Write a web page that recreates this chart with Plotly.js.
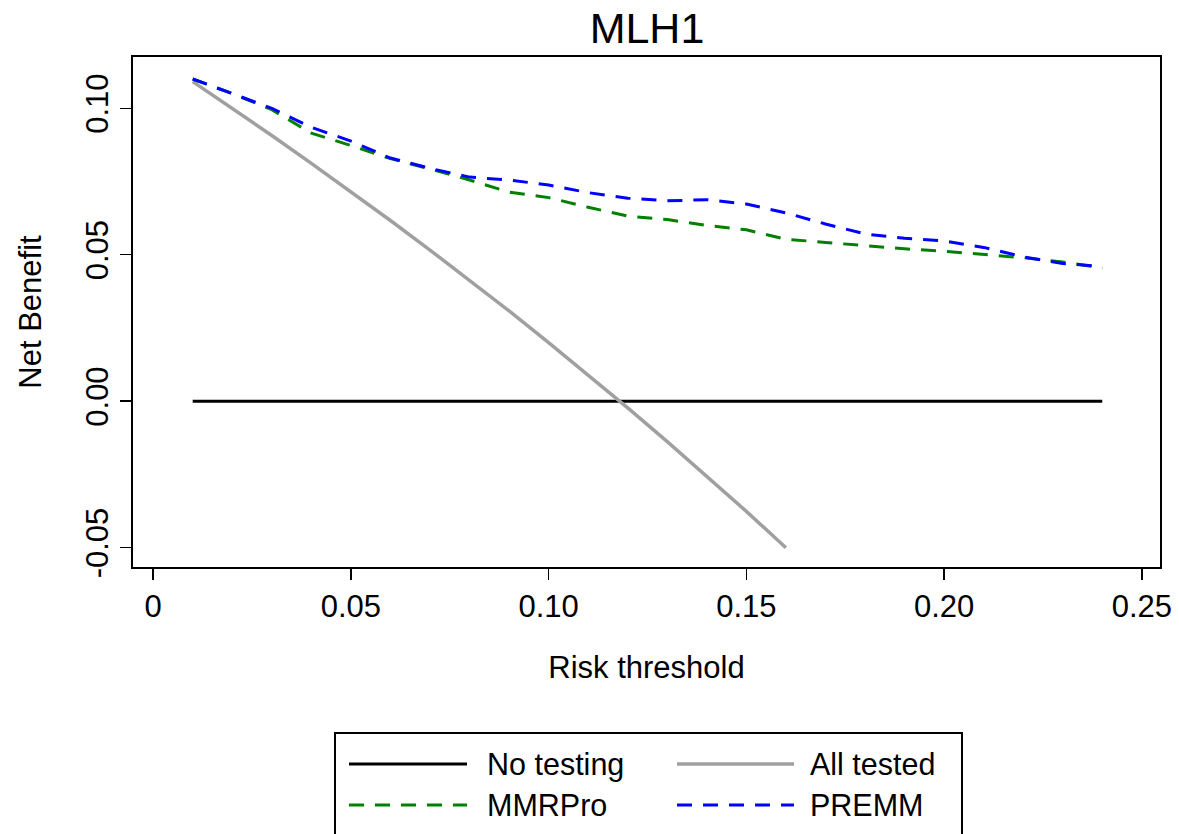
<!DOCTYPE html>
<html>
<head>
<meta charset="utf-8">
<script src="https://cdn.plot.ly/plotly-3.0.1.min.js"></script>
<style>
  html, body { margin: 0; padding: 0; background: #ffffff; }
  #chart { width: 1179px; height: 834px; }
</style>
</head>
<body>
<div id="chart"></div>
<script>
// ---- data ----
const thresholds = [0.01, 0.02, 0.03, 0.04, 0.05, 0.06, 0.07, 0.08, 0.09, 0.10, 0.11, 0.12,
                    0.13, 0.14, 0.15, 0.16, 0.17, 0.18, 0.19, 0.20, 0.21, 0.22, 0.23, 0.24];
const noTesting = [0, 0, 0, 0, 0, 0, 0, 0, 0, 0, 0, 0,
                   0, 0, 0, 0, 0, 0, 0, 0, 0, 0, 0, 0];
const allTestedX = [0.01, 0.02, 0.03, 0.04, 0.05, 0.06, 0.07, 0.08,
                    0.09, 0.10, 0.11, 0.12, 0.13, 0.14, 0.15, 0.16];
const allTested = [0.1091, 0.1000, 0.0907, 0.0812, 0.0716, 0.0617, 0.0516, 0.0413,
                   0.0308, 0.0200, 0.0090, -0.0023, -0.0138, -0.0256, -0.0376, -0.0500];
const mmrpro = [0.110, 0.105, 0.0995, 0.0915, 0.0873, 0.0828, 0.0793, 0.0755, 0.0714, 0.0695, 0.0662, 0.0632,
                0.0620, 0.0600, 0.0585, 0.0553, 0.0542, 0.0530, 0.0520, 0.0512, 0.0500, 0.0490, 0.0475, 0.0455];
const premm = [0.110, 0.105, 0.100, 0.0935, 0.0888, 0.0830, 0.0795, 0.0765, 0.0755, 0.0738, 0.0712, 0.0693,
               0.0684, 0.0688, 0.0673, 0.0643, 0.0605, 0.0571, 0.0556, 0.0547, 0.0525, 0.0493, 0.0470, 0.0460];

const seriesNames = ['No testing', 'All tested', 'MMRPro', 'PREMM'];
const xTickVals = [0, 0.05, 0.10, 0.15, 0.20, 0.25];
const xTickText = ['0', '0.05', '0.10', '0.15', '0.20', '0.25'];
const yTickVals = [-0.05, 0, 0.05, 0.10];
const yTickText = ['-0.05', '0.00', '0.05', '0.10'];
const chartTitle = 'MLH1';
const xTitle = 'Risk threshold';
const yTitle = 'Net Benefit';

// ---- styles ----
const colors = ['#000000', '#a0a0a0', '#008000', '#0000ff'];
const widths = [3, 3.5, 3, 3];
const dashes = ['solid', 'solid', '15px,11px', '15px,11px'];
const FONT = 'Arial, "Liberation Sans", Helvetica, sans-serif';
const FS = 31;

const traces = [
  {x: thresholds, y: noTesting, name: seriesNames[0]},
  {x: allTestedX, y: allTested, name: seriesNames[1]},
  {x: thresholds, y: mmrpro, name: seriesNames[2]},
  {x: thresholds, y: premm, name: seriesNames[3]}
].map((t, i) => Object.assign(t, {
  type: 'scatter', mode: 'lines', showlegend: false, hoverinfo: 'skip',
  line: {color: colors[i], width: widths[i], dash: dashes[i]}
}));

// plot box in pixels (for placing the hand-built legend)
const W = 1179, H = 834;
const box = {l: 133, r: 1160, t: 57, b: 567};
const px2x = p => (p - box.l) / (box.r - box.l);
const px2y = p => (box.b - p) / (box.b - box.t);

// legend layout: two columns, two rows
const legCols = [{x0: 349, x1: 467, tx: 485}, {x0: 677, x1: 794, tx: 808}];
const legRows = [764, 805];
const shapes = [{
  type: 'rect', xref: 'paper', yref: 'paper',
  x0: px2x(335), x1: px2x(962), y0: px2y(733), y1: px2y(860),
  line: {color: '#000000', width: 2}, fillcolor: 'rgba(0,0,0,0)'
}];
const annotations = [];
seriesNames.forEach((nm, i) => {
  const c = legCols[i % 2], r = legRows[Math.floor(i / 2)];
  shapes.push({
    type: 'line', xref: 'paper', yref: 'paper',
    x0: px2x(c.x0), x1: px2x(c.x1), y0: px2y(r), y1: px2y(r),
    line: {color: colors[i], width: widths[i], dash: dashes[i]}
  });
  annotations.push({
    xref: 'paper', yref: 'paper', x: px2x(c.tx), y: px2y(r),
    xanchor: 'left', yanchor: 'middle', showarrow: false,
    text: nm, font: {family: FONT, size: 30.5, color: '#000000'}
  });
});

const layout = {
  width: W, height: H,
  margin: {l: box.l, r: W - box.r, t: box.t, b: H - box.b, pad: 0},
  paper_bgcolor: '#ffffff', plot_bgcolor: '#ffffff',
  font: {family: FONT, size: FS, color: '#000000'},
  title: {text: chartTitle, font: {family: FONT, size: 43, color: '#000000'},
          x: 647 / W, xanchor: 'center',
          y: 1 - 28 / H, yanchor: 'middle', yref: 'container'},
  xaxis: {
    range: [-0.0051, 0.2546], tickmode: 'array', tickvals: xTickVals, ticktext: xTickText,
    ticks: 'outside', ticklen: 11, tickwidth: 1.5, tickcolor: '#000000',
    showline: true, mirror: true, linewidth: 2, linecolor: '#000000',
    showgrid: false, zeroline: false,
    tickfont: {family: FONT, size: FS},
    title: {text: xTitle, font: {family: FONT, size: FS}, standoff: 33}
  },
  yaxis: {
    range: [-0.0566, 0.1175], tickmode: 'array', tickvals: yTickVals, ticktext: yTickText,
    ticks: 'outside', ticklen: 11, tickwidth: 1.5, tickcolor: '#000000', tickangle: -90,
    showline: true, mirror: true, linewidth: 2, linecolor: '#000000',
    showgrid: false, zeroline: false,
    tickfont: {family: FONT, size: FS},
    title: {text: yTitle, font: {family: FONT, size: FS}, standoff: 29}
  },
  shapes: shapes,
  annotations: annotations,
  showlegend: false
};

Plotly.newPlot('chart', traces, layout, {staticPlot: true, displayModeBar: false});
</script>
</body>
</html>
